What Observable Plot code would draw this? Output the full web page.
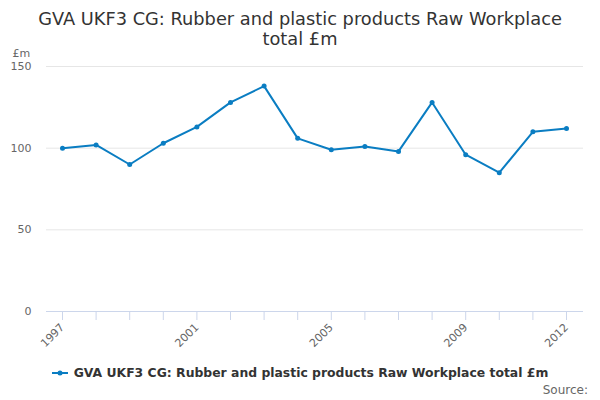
<!DOCTYPE html>
<html lang="en">
<head>
<meta charset="utf-8">
<title>GVA UKF3 CG: Rubber and plastic products</title>
<script src="https://cdn.jsdelivr.net/npm/d3@7"></script>
<script src="https://cdn.jsdelivr.net/npm/@observablehq/plot@0.6"></script>
<style>
  body {
    margin: 0;
    width: 600px;
    height: 400px;
    position: relative;
    font-family: 'DejaVu Sans', sans-serif;
    background: #fff;
    overflow: hidden;
  }
  #title {
    box-sizing: border-box;
    height: 48px;
    padding-top: 9px;
    font-size: 17.8px;
    line-height: 20px;
    color: #333;
    text-align: center;
  }
  #legend {
    position: absolute;
    top: 364px;
    left: 0;
    width: 600px;
    text-align: center;
    font-size: 12.4px;
    font-weight: bold;
    line-height: 18px;
    color: #333;
  }
  #legend svg {
    vertical-align: -1px;
    margin-right: 6px;
  }
  #source {
    position: absolute;
    top: 382px;
    right: 12px;
    font-size: 12px;
    line-height: 16px;
    color: #666;
  }
</style>
</head>
<body>
  <div id="title">GVA UKF3 CG: Rubber and plastic products Raw Workplace<br>total £m</div>
  <div id="graphic"></div>
  <div id="legend"><svg width="16" height="10"><line x1="0" x2="16" y1="5" y2="5" stroke="#0a7dc2" stroke-width="2"/><circle cx="8" cy="5" r="2.5" fill="#0a7dc2"/></svg>GVA UKF3 CG: Rubber and plastic products Raw Workplace total £m</div>
  <div id="source">Source:</div>

<script>
  const years = [1997, 1998, 1999, 2000, 2001, 2002, 2003, 2004, 2005, 2006, 2007, 2008, 2009, 2010, 2011, 2012];
  const gva = [100, 102, 90, 103, 113, 128, 138, 106, 99, 101, 98, 128, 96, 85, 110, 112];
  const labelYears = [1997, 2001, 2005, 2009, 2012];
  const yTicks = [0, 50, 100, 150];
  const gridTicks = [50, 100, 150];

  const data = years.map((year, i) => ({year: year, value: gva[i]}));
  const blue = "#0a7dc2";

  const chart = Plot.plot({
    width: 600,
    height: 308,
    marginTop: 18,
    marginBottom: 45,
    marginLeft: 46,
    marginRight: 17,
    style: {fontFamily: "'DejaVu Sans', sans-serif", fontSize: "11px", background: "#fff"},
    x: {type: "linear", domain: [1997, 2012], insetLeft: 16, insetRight: 17},
    y: {domain: [0, 150]},
    marks: [
      Plot.ruleY(gridTicks, {stroke: "#e6e6e6"}),
      Plot.ruleY([0], {stroke: "#ccd6eb"}),
      Plot.axisY(yTicks, {tickSize: 0, tickPadding: 15, fill: "#666", label: null}),
      Plot.axisX(years, {tickSize: 9, stroke: "#ccd6eb", tickFormat: () => "", label: null}),
      Plot.axisX(labelYears, {tickSize: 0, tickPadding: 14, tickRotate: -45, fill: "#666", tickFormat: d => String(d), label: null}),
      Plot.text(["£m"], {frameAnchor: "top-left", dx: -34, dy: -17, textAnchor: "start", fill: "#666"}),
      Plot.line(data, {x: "year", y: "value", stroke: blue, strokeWidth: 2}),
      Plot.dot(data, {x: "year", y: "value", r: 2.5, fill: blue})
    ]
  });
  document.getElementById("graphic").appendChild(chart);
</script>
</body>
</html>
